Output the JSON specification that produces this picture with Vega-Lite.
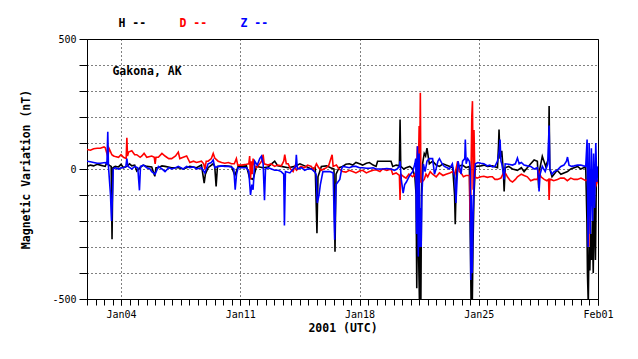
{
"$schema": "https://vega.github.io/schema/vega-lite/v6.json",
"width": 511,
"height": 260,
"autosize": {"type": "none"},
"padding": {"left": 87, "top": 39, "right": 40, "bottom": 60},
"background": "white",
"config": {"view": {"stroke": "black", "strokeWidth": 1}, "font": "DejaVu Sans Mono"},
"datasets": {
"H": [{"t":2.00,"v":10},{"t":2.20,"v":15},{"t":2.39,"v":12},{"t":2.60,"v":18},{"t":2.78,"v":15},{"t":3.07,"v":10},{"t":3.17,"v":25},{"t":3.29,"v":15},{"t":3.42,"v":10},{"t":3.47,"v":-270},{"t":3.52,"v":5},{"t":3.66,"v":10},{"t":3.85,"v":8},{"t":4.00,"v":18},{"t":4.14,"v":5},{"t":4.34,"v":10},{"t":4.50,"v":20},{"t":4.63,"v":12},{"t":4.80,"v":15},{"t":4.92,"v":-8},{"t":5.12,"v":5},{"t":5.30,"v":15},{"t":5.51,"v":10},{"t":5.80,"v":8},{"t":5.98,"v":-28},{"t":6.05,"v":5},{"t":6.19,"v":5},{"t":6.40,"v":12},{"t":6.58,"v":10},{"t":6.97,"v":5},{"t":7.36,"v":5},{"t":7.65,"v":0},{"t":8.04,"v":10},{"t":8.43,"v":5},{"t":8.72,"v":15},{"t":8.88,"v":-54},{"t":8.95,"v":-20},{"t":9.11,"v":5},{"t":9.41,"v":20},
{"t":9.50,"v":10},{"t":9.58,"v":-67},{"t":9.66,"v":10},{"t":10.09,"v":12},{"t":10.48,"v":10},{"t":10.68,"v":-25},{"t":10.87,"v":10},{"t":11.36,"v":12},{"t":11.55,"v":-35},{"t":11.75,"v":-40},{"t":11.95,"v":10},{"t":12.34,"v":5},{"t":12.63,"v":8},{"t":13.02,"v":30},{"t":13.20,"v":12},{"t":13.41,"v":10},{"t":13.81,"v":5},{"t":14.20,"v":10},{"t":14.50,"v":20},{"t":14.78,"v":12},{"t":15.17,"v":0},{"t":15.40,"v":5},{"t":15.50,"v":-247},{"t":15.56,"v":-30},{"t":15.76,"v":10},{"t":16.06,"v":12},{"t":16.30,"v":5},{"t":16.50,"v":0},{"t":16.56,"v":-318},{"t":16.62,"v":-20},{"t":16.80,"v":5},{"t":17.01,"v":10},
{"t":17.20,"v":18},{"t":17.40,"v":20},{"t":17.60,"v":15},{"t":17.79,"v":25},{"t":18.00,"v":20},{"t":18.18,"v":15},{"t":18.40,"v":22},{"t":18.58,"v":25},{"t":18.80,"v":15},{"t":18.97,"v":10},{"t":19.06,"v":30},{"t":19.85,"v":30},{"t":19.95,"v":10},{"t":20.15,"v":15},{"t":20.34,"v":12},{"t":20.38,"v":190},{"t":20.42,"v":10},{"t":20.60,"v":0},{"t":20.73,"v":5},{"t":20.95,"v":10},{"t":21.12,"v":0},{"t":21.25,"v":-30},{"t":21.32,"v":-100},{"t":21.36,"v":-459},{"t":21.41,"v":-50},{"t":21.46,"v":-300},{"t":21.52,"v":-520},{"t":21.56,"v":-200},{"t":21.60,"v":-520},{"t":21.64,"v":-100},{"t":21.70,"v":20},{"t":21.80,"v":60},{"t":21.88,"v":50},{"t":21.96,"v":80},{"t":22.05,"v":40},{"t":22.10,"v":20},{"t":22.29,"v":30},{"t":22.50,"v":15},{"t":22.69,"v":10},{"t":22.90,"v":20},{"t":23.08,"v":15},{"t":23.30,"v":10},{"t":23.47,"v":5},{"t":23.58,"v":-100},{"t":23.62,"v":-212},{"t":23.68,"v":-40},{"t":23.72,"v":10},{"t":24.05,"v":15},{"t":24.25,"v":5},{"t":24.45,"v":10},
{"t":24.51,"v":-300},{"t":24.55,"v":-520},{"t":24.58,"v":-200},{"t":24.62,"v":-520},{"t":24.66,"v":-300},{"t":24.72,"v":-100},{"t":24.80,"v":10},{"t":25.12,"v":12},{"t":25.30,"v":15},{"t":25.51,"v":10},{"t":25.80,"v":12},{"t":26.10,"v":5},{"t":26.16,"v":90},{"t":26.19,"v":152},{"t":26.25,"v":40},{"t":26.35,"v":70},{"t":26.45,"v":-20},{"t":26.49,"v":-86},{"t":26.55,"v":5},{"t":26.75,"v":10},{"t":26.98,"v":0},{"t":27.27,"v":-5},{"t":27.50,"v":5},{"t":27.66,"v":-10},{"t":27.85,"v":5},{"t":28.05,"v":20},{"t":28.25,"v":35},{"t":28.44,"v":30},{"t":28.52,"v":-73},{"t":28.58,"v":0},{"t":28.73,"v":49},{"t":28.93,"v":10},{"t":29.10,"v":40},{"t":29.13,"v":242},{"t":29.17,"v":0},{"t":29.30,"v":-30},{"t":29.42,"v":-20},{"t":29.60,"v":-5},{"t":29.82,"v":-20},{"t":30.00,"v":-15},{"t":30.21,"v":-10},{"t":30.40,"v":0},{"t":30.60,"v":5},{"t":30.80,"v":10},{"t":30.99,"v":0},{"t":31.15,"v":5},{"t":31.28,"v":5},{"t":31.35,"v":-200},{"t":31.38,"v":-400},{"t":31.43,"v":-520},{"t":31.47,"v":-300},{"t":31.52,"v":-390},{"t":31.57,"v":-250},{"t":31.62,"v":-350},{"t":31.67,"v":-200},{"t":31.72,"v":-400},{"t":31.78,"v":-100},{"t":31.85,"v":-350},{"t":31.90,"v":-50},{"t":31.95,"v":0},{"t":32.0,"v":5}],
"D": [{"t":2.00,"v":75},{"t":2.20,"v":72},{"t":2.39,"v":78},{"t":2.60,"v":80},{"t":2.78,"v":80},{"t":3.00,"v":85},{"t":3.07,"v":82},{"t":3.17,"v":60},{"t":3.23,"v":45},{"t":3.29,"v":80},{"t":3.36,"v":70},{"t":3.46,"v":55},{"t":3.56,"v":50},{"t":3.66,"v":48},{"t":3.85,"v":45},{"t":4.00,"v":55},{"t":4.14,"v":45},{"t":4.30,"v":40},{"t":4.34,"v":120},{"t":4.38,"v":50},{"t":4.44,"v":65},{"t":4.63,"v":70},{"t":4.80,"v":55},{"t":4.92,"v":55},{"t":5.12,"v":45},{"t":5.22,"v":50},{"t":5.35,"v":60},{"t":5.51,"v":45},{"t":5.80,"v":50},{"t":5.95,"v":45},{"t":6.00,"v":20},{"t":6.05,"v":45},{"t":6.19,"v":45},{"t":6.40,"v":60},{"t":6.58,"v":50},{"t":6.80,"v":40},{"t":6.97,"v":40},{"t":7.20,"v":50},{"t":7.36,"v":65},{"t":7.45,"v":40},{"t":7.65,"v":45},{"t":7.85,"v":50},{"t":8.04,"v":25},{"t":8.25,"v":30},{"t":8.43,"v":25},{"t":8.72,"v":30},{"t":8.85,"v":20},{"t":8.92,"v":0},{"t":9.00,"v":30},{"t":9.11,"v":30},{"t":9.30,"v":40},{"t":9.41,"v":60},
{"t":9.50,"v":42},{"t":9.70,"v":30},{"t":9.90,"v":25},{"t":10.09,"v":22},{"t":10.30,"v":25},{"t":10.48,"v":20},{"t":10.65,"v":20},{"t":10.77,"v":40},{"t":10.85,"v":15},{"t":11.07,"v":15},{"t":11.36,"v":18},{"t":11.50,"v":20},{"t":11.55,"v":50},{"t":11.60,"v":-40},{"t":11.65,"v":30},{"t":11.70,"v":-20},{"t":11.75,"v":40},{"t":11.85,"v":10},{"t":11.95,"v":5},{"t":12.14,"v":20},{"t":12.25,"v":30},{"t":12.34,"v":55},{"t":12.40,"v":20},{"t":12.63,"v":15},{"t":12.80,"v":20},{"t":13.02,"v":10},{"t":13.20,"v":15},{"t":13.41,"v":12},{"t":13.55,"v":30},{"t":13.61,"v":55},{"t":13.70,"v":20},{"t":13.81,"v":20},{"t":13.95,"v":0},{"t":14.10,"v":-10},{"t":14.20,"v":10},{"t":14.30,"v":-5},{"t":14.39,"v":0},{"t":14.55,"v":10},{"t":14.78,"v":5},{"t":14.95,"v":15},{"t":15.17,"v":10},{"t":15.30,"v":-5},{"t":15.47,"v":20},{"t":15.60,"v":5},{"t":15.76,"v":-5},{"t":15.90,"v":0},{"t":16.06,"v":5},{"t":16.20,"v":15},{"t":16.39,"v":55},{"t":16.45,"v":10},{"t":16.64,"v":15},{"t":16.80,"v":0},{"t":17.01,"v":-10},
{"t":17.20,"v":-12},{"t":17.40,"v":-5},{"t":17.60,"v":-10},{"t":17.79,"v":-15},{"t":18.00,"v":-8},{"t":18.18,"v":-5},{"t":18.40,"v":-15},{"t":18.58,"v":-10},{"t":18.80,"v":-5},{"t":18.97,"v":-3},{"t":19.20,"v":-10},{"t":19.36,"v":0},{"t":19.60,"v":-5},{"t":19.85,"v":0},{"t":19.95,"v":-20},{"t":20.15,"v":-15},{"t":20.34,"v":-25},{"t":20.38,"v":-119},{"t":20.42,"v":-20},{"t":20.60,"v":-30},{"t":20.73,"v":-35},{"t":20.90,"v":-20},{"t":21.12,"v":-30},{"t":21.25,"v":-20},{"t":21.32,"v":-40},{"t":21.40,"v":87},{"t":21.44,"v":-60},{"t":21.50,"v":165},{"t":21.53,"v":-20},{"t":21.57,"v":293},{"t":21.60,"v":-50},{"t":21.67,"v":-50},{"t":21.80,"v":-40},{"t":21.90,"v":-20},{"t":22.00,"v":-30},{"t":22.15,"v":-10},{"t":22.29,"v":-20},{"t":22.50,"v":-30},{"t":22.69,"v":-15},{"t":22.90,"v":-25},{"t":23.08,"v":-20},{"t":23.30,"v":-15},{"t":23.47,"v":-10},{"t":23.60,"v":-20},{"t":23.76,"v":30},{"t":23.85,"v":-10},{"t":23.96,"v":-15},{"t":24.10,"v":-30},{"t":24.25,"v":-25},{"t":24.45,"v":-25},{"t":24.49,"v":-202},{"t":24.53,"v":-100},
{"t":24.59,"v":200},{"t":24.63,"v":261},{"t":24.67,"v":-80},{"t":24.72,"v":150},{"t":24.77,"v":-30},{"t":24.90,"v":-35},{"t":25.12,"v":-30},{"t":25.30,"v":-28},{"t":25.51,"v":-32},{"t":25.65,"v":-30},{"t":25.80,"v":-30},{"t":25.95,"v":-40},{"t":26.10,"v":-40},{"t":26.30,"v":-35},{"t":26.49,"v":-10},{"t":26.60,"v":-20},{"t":26.68,"v":-30},{"t":26.85,"v":-45},{"t":26.98,"v":-50},{"t":27.15,"v":-40},{"t":27.27,"v":-30},{"t":27.50,"v":-20},{"t":27.66,"v":-25},{"t":27.85,"v":-30},{"t":28.05,"v":-45},{"t":28.25,"v":-40},{"t":28.44,"v":-40},{"t":28.54,"v":-10},{"t":28.65,"v":-30},{"t":28.84,"v":-40},{"t":29.00,"v":-45},{"t":29.10,"v":-40},{"t":29.13,"v":-119},{"t":29.17,"v":-40},{"t":29.23,"v":-40},{"t":29.40,"v":-45},{"t":29.62,"v":-40},{"t":29.80,"v":-35},{"t":30.01,"v":-35},{"t":30.20,"v":-45},{"t":30.40,"v":-35},{"t":30.60,"v":-40},{"t":30.79,"v":-40},{"t":31.00,"v":-35},{"t":31.28,"v":-45},{"t":31.42,"v":-40},{"t":31.46,"v":-298},{"t":31.50,"v":-30},{"t":31.60,"v":-50},{"t":31.77,"v":-20},{"t":31.90,"v":-60},{"t":32.0,"v":-40}],
"Z": [{"t":2.00,"v":30},{"t":2.20,"v":28},{"t":2.39,"v":25},{"t":2.60,"v":22},{"t":2.78,"v":22},{"t":3.07,"v":25},{"t":3.17,"v":20},{"t":3.22,"v":143},{"t":3.26,"v":10},{"t":3.38,"v":-100},{"t":3.44,"v":-200},{"t":3.48,"v":-130},{"t":3.54,"v":0},{"t":3.66,"v":5},{"t":3.85,"v":0},{"t":4.00,"v":5},{"t":4.14,"v":5},{"t":4.28,"v":10},{"t":4.34,"v":40},{"t":4.40,"v":10},{"t":4.63,"v":0},{"t":4.80,"v":10},{"t":4.98,"v":5},{"t":5.08,"v":-82},{"t":5.14,"v":10},{"t":5.32,"v":15},{"t":5.51,"v":5},{"t":5.70,"v":0},{"t":5.80,"v":-10},{"t":6.00,"v":-20},{"t":6.19,"v":10},{"t":6.40,"v":0},{"t":6.58,"v":-10},{"t":6.80,"v":5},{"t":6.97,"v":0},{"t":7.20,"v":5},{"t":7.36,"v":10},{"t":7.65,"v":0},{"t":7.85,"v":10},{"t":8.04,"v":5},{"t":8.25,"v":8},{"t":8.43,"v":0},{"t":8.72,"v":5},{"t":8.92,"v":-15},{"t":9.11,"v":20},{"t":9.30,"v":25},{"t":9.41,"v":35},
{"t":9.50,"v":5},{"t":9.70,"v":10},{"t":9.90,"v":12},{"t":10.09,"v":10},{"t":10.30,"v":10},{"t":10.48,"v":8},{"t":10.62,"v":0},{"t":10.70,"v":-80},{"t":10.78,"v":-20},{"t":10.87,"v":5},{"t":11.10,"v":5},{"t":11.36,"v":5},{"t":11.50,"v":-10},{"t":11.60,"v":-100},{"t":11.68,"v":-60},{"t":11.75,"v":-80},{"t":11.85,"v":30},{"t":12.00,"v":15},{"t":12.14,"v":40},{"t":12.24,"v":49},{"t":12.34,"v":20},{"t":12.42,"v":-120},{"t":12.48,"v":0},{"t":12.63,"v":5},{"t":12.83,"v":0},{"t":13.02,"v":-5},{"t":13.22,"v":-5},{"t":13.40,"v":-10},{"t":13.55,"v":-20},{"t":13.59,"v":-217},{"t":13.65,"v":-10},{"t":13.91,"v":-15},{"t":14.10,"v":0},{"t":14.25,"v":10},{"t":14.29,"v":55},{"t":14.35,"v":0},{"t":14.60,"v":5},{"t":14.78,"v":-5},{"t":14.95,"v":0},{"t":15.17,"v":0},{"t":15.35,"v":-10},{"t":15.45,"v":-20},{"t":15.52,"v":-131},{"t":15.62,"v":-100},{"t":15.70,"v":-60},{"t":15.85,"v":-10},{"t":16.05,"v":-10},{"t":16.25,"v":-10},{"t":16.45,"v":-15},{"t":16.54,"v":-272},{"t":16.62,"v":-60},{"t":16.84,"v":-40},{"t":16.95,"v":0},{"t":17.01,"v":10},
{"t":17.20,"v":8},{"t":17.40,"v":5},{"t":17.60,"v":10},{"t":17.79,"v":10},{"t":18.00,"v":5},{"t":18.18,"v":5},{"t":18.40,"v":3},{"t":18.58,"v":3},{"t":18.80,"v":5},{"t":18.97,"v":0},{"t":19.36,"v":0},{"t":19.60,"v":2},{"t":19.85,"v":0},{"t":20.05,"v":-5},{"t":20.20,"v":0},{"t":20.34,"v":10},{"t":20.38,"v":30},{"t":20.45,"v":-40},{"t":20.56,"v":-93},{"t":20.65,"v":-60},{"t":20.75,"v":-50},{"t":20.90,"v":-30},{"t":21.00,"v":-20},{"t":21.12,"v":-10},{"t":21.25,"v":20},{"t":21.30,"v":40},{"t":21.35,"v":-250},{"t":21.40,"v":87},{"t":21.45,"v":-337},{"t":21.50,"v":60},{"t":21.55,"v":-300},{"t":21.58,"v":-150},{"t":21.62,"v":-300},{"t":21.66,"v":-100},{"t":21.75,"v":20},{"t":21.85,"v":-10},{"t":21.96,"v":30},{"t":22.10,"v":40},{"t":22.29,"v":40},{"t":22.40,"v":-20},{"t":22.49,"v":0},{"t":22.60,"v":30},{"t":22.69,"v":40},{"t":22.85,"v":20},{"t":22.98,"v":10},{"t":23.15,"v":5},{"t":23.28,"v":0},{"t":23.45,"v":20},{"t":23.60,"v":-40},{"t":23.66,"v":-131},{"t":23.72,"v":-50},{"t":23.78,"v":30},{"t":23.90,"v":0},{"t":23.96,"v":-20},{"t":24.05,"v":30},{"t":24.18,"v":40},{"t":24.21,"v":113},{"t":24.26,"v":20},{"t":24.35,"v":40},{"t":24.45,"v":30},
{"t":24.50,"v":0},{"t":24.53,"v":-427},{"t":24.57,"v":-100},{"t":24.61,"v":-400},{"t":24.66,"v":-200},{"t":24.70,"v":-100},{"t":24.75,"v":-20},{"t":24.80,"v":20},{"t":24.95,"v":25},{"t":25.12,"v":22},{"t":25.30,"v":20},{"t":25.51,"v":12},{"t":25.65,"v":15},{"t":25.80,"v":8},{"t":25.95,"v":10},{"t":26.10,"v":30},{"t":26.20,"v":70},{"t":26.25,"v":113},{"t":26.30,"v":30},{"t":26.35,"v":20},{"t":26.45,"v":-20},{"t":26.49,"v":-40},{"t":26.55,"v":20},{"t":26.75,"v":18},{"t":26.98,"v":15},{"t":27.15,"v":20},{"t":27.27,"v":42},{"t":27.37,"v":20},{"t":27.50,"v":25},{"t":27.66,"v":15},{"t":27.85,"v":12},{"t":28.05,"v":10},{"t":28.25,"v":0},{"t":28.44,"v":5},{"t":28.50,"v":-30},{"t":28.54,"v":-86},{"t":28.60,"v":-20},{"t":28.73,"v":10},{"t":28.90,"v":-10},{"t":29.05,"v":20},{"t":29.13,"v":167},{"t":29.17,"v":0},{"t":29.30,"v":-20},{"t":29.42,"v":-10},{"t":29.60,"v":-5},{"t":29.82,"v":10},{"t":30.00,"v":15},{"t":30.15,"v":30},{"t":30.21,"v":46},{"t":30.30,"v":15},{"t":30.45,"v":10},{"t":30.60,"v":12},{"t":30.80,"v":15},{"t":30.99,"v":15},{"t":31.15,"v":12},{"t":31.28,"v":10},{"t":31.36,"v":113},{"t":31.42,"v":-300},{"t":31.48,"v":100},{"t":31.55,"v":-250},{"t":31.61,"v":80},{"t":31.68,"v":-200},{"t":31.74,"v":60},{"t":31.80,"v":-150},{"t":31.87,"v":100},{"t":31.93,"v":-50},{"t":32.0,"v":10}]
},
"encoding": {
"y": {"field": "v", "type": "quantitative", "scale": {"domain": [-500, 500], "nice": false, "zero": false},
"axis": {"values": [-500, -400, -300, -200, -100, 0, 100, 200, 300, 400, 500], "labelExpr": "datum.value == 500 ? '500' : datum.value == 0 ? '0' : datum.value == -500 ? '-500' : ''", "grid": true, "gridDash": [1, 3], "gridColor": "black", "gridOpacity": 1, "gridWidth": 1, "tickSize": 8, "tickColor": "black", "domainColor": "black", "labelFont": "DejaVu Sans Mono", "labelFontSize": 10, "labelColor": "black", "labelPadding": 3, "labelFlush": false, "labelOverlap": false, "title": "Magnetic Variation (nT)", "titleFont": "DejaVu Sans Mono", "titleFontSize": 11.5, "titleFontWeight": "bold", "titleColor": "black", "titlePadding": 20}}
},
"resolve": {"axis": {"x": "independent"}},
"layer": [
{
"data": {"name": "H"},
"mark": {"type": "line", "clip": true, "strokeWidth": 1.6},
"encoding": {
"x": {"field": "t", "type": "quantitative", "scale": {"domain": [2, 32], "nice": false, "zero": false},
"axis": {"orient": "bottom", "values": [4, 11, 18, 25, 32], "labelExpr": "datum.value == 32 ? 'Feb01' : 'Jan' + (datum.value < 10 ? '0' : '') + datum.value", "grid": true, "gridDash": [1, 3], "gridColor": "black", "gridOpacity": 1, "gridWidth": 1, "tickSize": 6, "tickColor": "black", "domainColor": "black", "labelFont": "DejaVu Sans Mono", "labelFontSize": 10, "labelColor": "black", "labelPadding": 4, "labelFlush": false, "labelOverlap": false, "title": "2001 (UTC)", "titleFont": "DejaVu Sans Mono", "titleFontSize": 11.5, "titleFontWeight": "bold", "titleColor": "black", "titlePadding": 3}},
"color": {"datum": "H", "type": "nominal", "scale": {"domain": ["H", "D", "Z"], "range": ["#000000", "#ff0000", "#0000ff"]},
"legend": {"orient": "none", "legendX": 20, "legendY": -21, "direction": "horizontal", "title": null, "symbolSize": 0, "symbolOpacity": 0, "symbolStrokeWidth": 0, "labelOffset": 0, "labelExpr": "datum.label + ' --'", "labelFont": "DejaVu Sans Mono", "labelFontSize": 11.5, "labelFontWeight": "bold", "columnPadding": 21, "encode": {"labels": {"update": {"fill": {"scale": "color", "field": "value"}}}}}}
}
},
{
"data": {"name": "D"},
"mark": {"type": "line", "clip": true, "strokeWidth": 1.6},
"encoding": {
"x": {"field": "t", "type": "quantitative", "scale": {"domain": [2, 32], "nice": false, "zero": false},
"axis": {"orient": "bottom", "values": [2,2.5,3,3.5,4,4.5,5,5.5,6,6.5,7,7.5,8,8.5,9,9.5,10,10.5,11,11.5,12,12.5,13,13.5,14,14.5,15,15.5,16,16.5,17,17.5,18,18.5,19,19.5,20,20.5,21,21.5,22,22.5,23,23.5,24,24.5,25,25.5,26,26.5,27,27.5,28,28.5,29,29.5,30,30.5,31,31.5,32], "labels": false, "grid": false, "domain": false, "tickSize": 6, "tickColor": "black", "title": null}},
"color": {"datum": "D", "type": "nominal"}
}
},
{
"data": {"name": "Z"},
"mark": {"type": "line", "clip": true, "strokeWidth": 1.6},
"encoding": {
"x": {"field": "t", "type": "quantitative", "axis": null},
"color": {"datum": "Z", "type": "nominal"}
}
},
{
"data": {"values": [{"t": 3.49, "v": 373, "label": "Gakona, AK"}]},
"mark": {"type": "text", "align": "left", "baseline": "middle", "font": "DejaVu Sans Mono", "fontSize": 11.5, "fontWeight": "bold", "color": "black"},
"encoding": {
"x": {"field": "t", "type": "quantitative", "axis": null},
"text": {"field": "label"}
}
}
]
}
